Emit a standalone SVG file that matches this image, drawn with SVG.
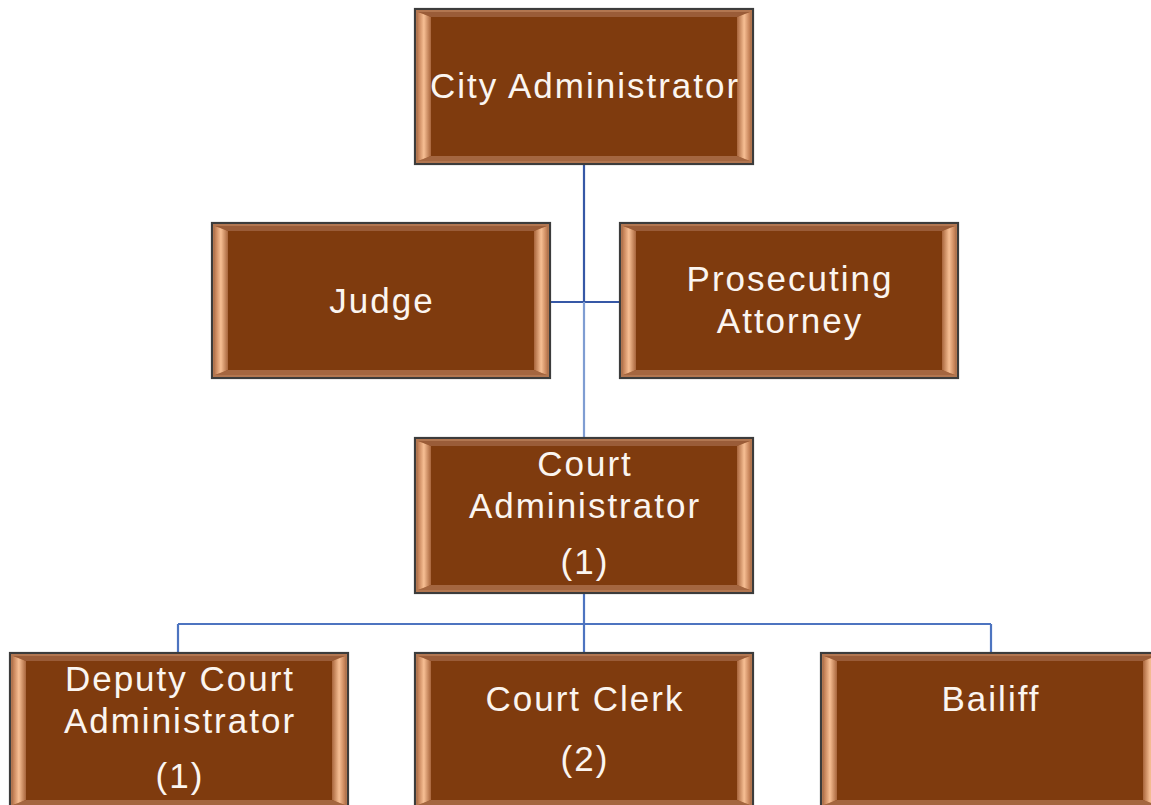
<svg xmlns="http://www.w3.org/2000/svg" width="1151" height="805" viewBox="0 0 1151 805">
<style>
.lbl{font-family:"Liberation Sans",Arial,sans-serif;font-size:35px;letter-spacing:2px;fill:#fbf5f0;text-anchor:middle}
.ln{fill:none;stroke-width:2.2}
</style>
<defs>
<linearGradient id="gl" x1="0" y1="0" x2="1" y2="0">
<stop offset="0" stop-color="#c07c52"/><stop offset="0.45" stop-color="#f7bf94"/><stop offset="1" stop-color="#a8653c"/>
</linearGradient>
<linearGradient id="gr" x1="0" y1="0" x2="1" y2="0">
<stop offset="0" stop-color="#a8653c"/><stop offset="0.55" stop-color="#f7bf94"/><stop offset="1" stop-color="#c07c52"/>
</linearGradient>
<g id="box">
<rect x="0" y="0" width="338" height="155" fill="#7f3b0e" stroke="#3c3c3c" stroke-width="2.2"/>
<rect x="2" y="2" width="334" height="151" fill="none" stroke="#b27650" stroke-width="2"/>
<polygon points="3,3 335,3 322,8 16,8" fill="#9a5c38"/>
<polygon points="3,152 335,152 322,147 16,147" fill="#a46640"/>
<polygon points="3,3 16,8 16,147 3,152" fill="url(#gl)"/>
<polygon points="335,3 322,8 322,147 335,152" fill="url(#gr)"/>
</g>
</defs>
<rect width="1151" height="805" fill="#ffffff"/>
<g id="connectors">
<path class="ln" stroke="#3658a6" d="M584,163 V302 M551,302 H619"/>
<path class="ln" stroke="#7f9dd2" d="M584,302 V438"/>
<path class="ln" stroke="#4d74c0" d="M584,593 V653 M178,624 H991 M178,624 V653 M991,624 V653"/>
</g>
<g id="city-administrator">
<use href="#box" x="415" y="9"/>
<text class="lbl" x="585" y="98">City Administrator</text>
</g>
<g id="judge">
<use href="#box" x="212" y="223"/>
<text class="lbl" x="382" y="313">Judge</text>
</g>
<g id="prosecuting-attorney">
<use href="#box" x="620" y="223"/>
<text class="lbl" x="790" y="291">Prosecuting</text>
<text class="lbl" x="790" y="333">Attorney</text>
</g>
<g id="court-administrator">
<use href="#box" x="415" y="438"/>
<text class="lbl" x="585" y="476">Court</text>
<text class="lbl" x="585" y="518">Administrator</text>
<text class="lbl" x="585" y="574">(1)</text>
</g>
<g id="deputy-court-administrator">
<use href="#box" x="10" y="653"/>
<text class="lbl" x="180" y="691">Deputy Court</text>
<text class="lbl" x="180" y="733">Administrator</text>
<text class="lbl" x="180" y="788">(1)</text>
</g>
<g id="court-clerk">
<use href="#box" x="415" y="653"/>
<text class="lbl" x="585" y="711">Court Clerk</text>
<text class="lbl" x="585" y="771">(2)</text>
</g>
<g id="bailiff">
<use href="#box" x="821" y="653"/>
<text class="lbl" x="991" y="711">Bailiff</text>
</g>
</svg>
